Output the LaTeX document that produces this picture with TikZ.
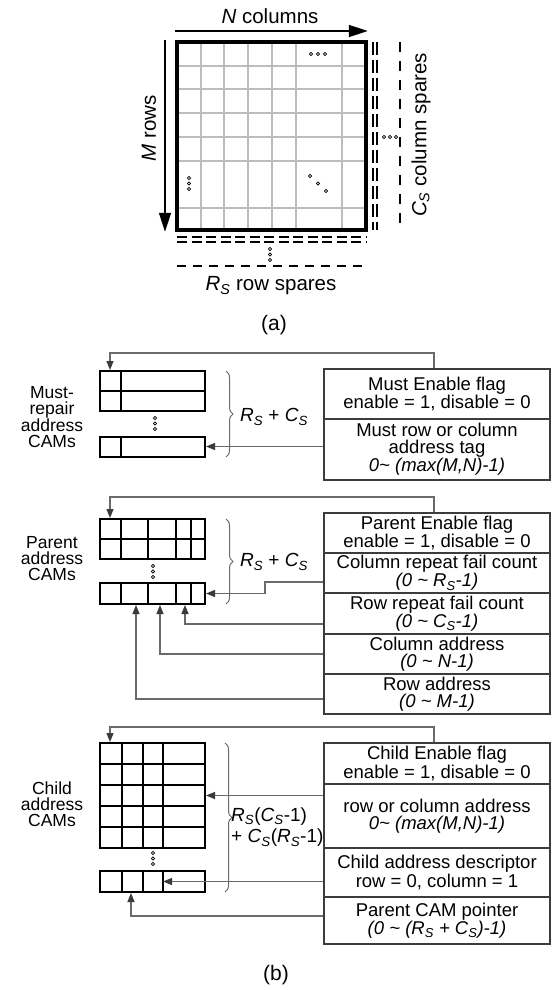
\documentclass[tikz,border=0pt]{standalone}
\usepackage{fontspec}
\setmainfont{Liberation Sans}
\usetikzlibrary{arrows.meta,decorations.pathreplacing}

\definecolor{boxgray}{HTML}{3C3C3C}
\definecolor{feedgray}{HTML}{6A6A6A}
\definecolor{headgray}{HTML}{3A3A3A}
\definecolor{gridgray}{HTML}{BDBDBD}

% italic R_S and C_S
\newcommand\RsS{\textit{R}\textsubscript{\textit{S}}}
\newcommand\CsS{\textit{C}\textsubscript{\textit{S}}}

\begin{document}
\begin{tikzpicture}[x=1pt,y=-1pt,
  afont/.style={font=\fontsize{20.5}{22}\selectfont},
  capfont/.style={font=\fontsize{21}{23}\selectfont},
  field/.style={draw=boxgray, line width=2.2pt, minimum width=226pt, inner sep=0pt,
    align=center, font=\fontsize{18.5}{16.8}\selectfont},
  lbl/.style={align=center, inner sep=0pt, font=\fontsize{17.5}{16}\selectfont},
  brlbl/.style={align=left, inner sep=0pt, font=\fontsize{19}{21.5}\selectfont},
  cam/.style={draw=black, line width=2pt, inner sep=0pt, minimum width=105pt},
  camline/.style={draw=black, line width=2pt},
  feed/.style={draw=feedgray, line width=1.2pt,
    -{Triangle[length=9pt,width=7pt,color=headgray]}},
  brc/.style={draw=feedgray, line width=1pt, decorate,
    decoration={brace,amplitude=7pt}},
  bigarrow/.style={draw=black, line width=1.6pt,
    -{Triangle[length=19pt,width=12pt]}},
  gridl/.style={draw=gridgray, line width=1.3pt},
  spare/.style={draw=black, line width=1.3pt},
  dot/.style={draw=black, line width=0.8pt},
]
\useasboundingbox (0,0) rectangle (554,990);
\fill[white] (0,0) rectangle (554,990);

% ---------------- (a) memory array with spares ----------------
\foreach \x in {201,224,248,272,296,342} \draw[gridl] (\x,42) -- (\x,230);
\foreach \y in {66,89,113,137,161,208} \draw[gridl] (177,\y) -- (366,\y);
\node[draw=black, line width=3.5pt, minimum width=189pt, minimum height=188pt,
  inner sep=0pt] (arr) at (271.5,136) {};

% ellipsis marks inside the array
\foreach \x in {311,318,325} \draw[dot] (\x,54) circle (1.6pt);
\foreach \y in {178,183.5,189} \draw[dot] (189,\y) circle (1.6pt);
\foreach \x/\y in {310/176,318/183.5,326/191} \draw[dot] (\x,\y) circle (1.6pt);

% dimension arrows
\draw[bigarrow] (arr.north west |- 0,31) -- (arr.north east |- 0,31);
\draw[bigarrow] (arr.north west -| 165,0) -- (arr.south west -| 165,0);
\node[afont, inner sep=0pt] (ncol) at (270,16) {\textit{N} columns};
\node[afont, inner sep=0pt, rotate=90] (mrow) at (149,128) {\textit{M} rows};

% column spares
\draw[spare, dash pattern=on 13pt off 5pt] (373,42) -- (373,230);
\draw[spare, dash pattern=on 13pt off 5pt] (377,42) -- (377,230);
\draw[spare, dash pattern=on 10pt off 9pt] (400,42) -- (400,230);
\foreach \x in {384,390,396} \draw[dot] (\x,137) circle (1.6pt);
\node[afont, inner sep=0pt, rotate=90] (cspr) at (421,135) {\CsS{} column spares};

% row spares
\draw[spare, dash pattern=on 10pt off 4.5pt] (177,237) -- (366,237);
\draw[spare, dash pattern=on 10pt off 4.5pt] (177,242) -- (366,242);
\draw[spare, dash pattern=on 9pt off 7pt] (177,266) -- (366,266);
\foreach \y in {249,254.5,260} \draw[dot] (270,\y) circle (1.6pt);
\node[afont, inner sep=0pt] (rspr) at (271,286) {\RsS{} row spares};

\node[capfont, inner sep=0pt] (capA) at (274,325) {(a)};

% ---------------- (b) Must-repair address CAMs ----------------
\node[lbl] (mLbl) at (52,417) {Must-\\repair\\address\\CAMs};
\node[cam, minimum height=40pt] (mA) at (152.5,391) {};
\draw[camline] (121,371) -- (121,411);
\draw[camline] (100,391) -- (205,391);
\foreach \y in {418,423.5,429} \draw[dot] (155,\y) circle (1.6pt);
\node[cam, minimum height=20pt] (mB) at (152.5,446.5) {};
\draw[camline] (121,436.5) -- (121,456.5);

\draw[brc] (226,371) -- (226,457);
\node[brlbl] (mBr) at (274,417) {\RsS{} + \CsS};

\node[field, minimum height=50pt] (mEn) at (437,394) {Must Enable flag\\enable = 1, disable = 0};
\node[field, minimum height=61pt] (mTag) at (437,449.5) {Must row or column\\address tag\\\textit{0\textasciitilde{} (max(M,N)-1)}};

\draw[feed] (mEn.north -| 434,0) |- (110,353) -- (mA.north -| 110,0);
\draw[feed] (mTag.west |- mB.east) -- (mB.east);

% ---------------- (b) Parent address CAMs ----------------
\node[lbl] (pLbl) at (52,559) {Parent\\address\\CAMs};
\node[cam, minimum height=40pt] (pA) at (152.5,539) {};
\foreach \x in {121,148,176,191} \draw[camline] (\x,519) -- (\x,559);
\draw[camline] (100,539) -- (205,539);
\foreach \y in {566,571.5,577} \draw[dot] (153,\y) circle (1.6pt);
\node[cam, minimum height=21pt] (pB) at (152.5,593.5) {};
\foreach \x in {121,148,176,191} \draw[camline] (\x,583) -- (\x,604);

\draw[brc] (226,519) -- (226,604);
\node[brlbl] (pBr) at (274,562) {\RsS{} + \CsS};

\node[field, minimum height=40pt] (pEn) at (437,533) {Parent Enable flag\\enable = 1, disable = 0};
\node[field, minimum height=40pt] (pCR) at (437,573) {Column repeat fail count\\\textit{(0 \textasciitilde{} \RsS-1)}};
\node[field, minimum height=41pt] (pRR) at (437,613.5) {Row repeat fail count\\\textit{(0 \textasciitilde{} \CsS-1)}};
\node[field, minimum height=40pt] (pCA) at (437,654) {Column address\\\textit{(0 \textasciitilde{} N-1)}};
\node[field, minimum height=40pt] (pRA) at (437,694) {Row address\\\textit{(0 \textasciitilde{} M-1)}};

\draw[feed] (pEn.north -| 434,0) |- (110,497) -- (pA.north -| 110,0);
\draw[feed] (pCR.west |- 0,582) -- (265,582) |- (pB.east);
\draw[feed] (pRR.west |- 0,624) -| (pB.south -| 185,0);
\draw[feed] (pCA.west |- 0,654) -| (pB.south -| 160,0);
\draw[feed] (pRA.west |- 0,699) -| (pB.south -| 136,0);

% ---------------- (b) Child address CAMs ----------------
\node[lbl] (cLbl) at (52,804) {Child\\address\\CAMs};
\node[cam, minimum height=105pt] (cA) at (152.5,795.5) {};
\foreach \x in {122,143,163} \draw[camline] (\x,743) -- (\x,848);
\foreach \y in {764,785,806,827} \draw[camline] (100,\y) -- (205,\y);
\foreach \y in {853,858.5,864} \draw[dot] (153,\y) circle (1.6pt);
\node[cam, minimum height=21pt] (cB) at (152.5,881.5) {};
\foreach \x in {122,143,163} \draw[camline] (\x,871) -- (\x,892);
\coordinate (cRow) at (cA.east |- 0,795.5);
\coordinate (cDesc) at (163,881.5);

\draw[brc] (225,743) -- (225,892);
\node[brlbl, anchor=west] (cBr) at (231,827) {\RsS(\CsS-1)\\+ \CsS(\RsS-1)};

\node[field, minimum height=41pt] (cEn) at (437,763.5) {Child Enable flag\\enable = 1, disable = 0};
\node[field, minimum height=64pt] (cAd) at (437,816) {row or column address\\\textit{0\textasciitilde{} (max(M,N)-1)}};
\node[field, minimum height=49pt] (cDs) at (437,872.5) {Child address descriptor\\row = 0, column = 1};
\node[field, minimum height=47pt] (cPp) at (437,920.5) {Parent CAM pointer\\\textit{(0 \textasciitilde{} (\RsS{} + \CsS)-1)}};

\draw[feed] (cEn.north -| 434,0) |- (110,727) -- (cA.north -| 110,0);
\draw[feed] (cAd.west |- cRow) -- (cRow);
\draw[feed] (cDs.west |- cDesc) -- (cDesc);
\draw[feed] (cPp.west |- 0,916) -| (cB.south -| 131,0);

\node[capfont, inner sep=0pt] (capB) at (276,975) {(b)};
\end{tikzpicture}
\end{document}
